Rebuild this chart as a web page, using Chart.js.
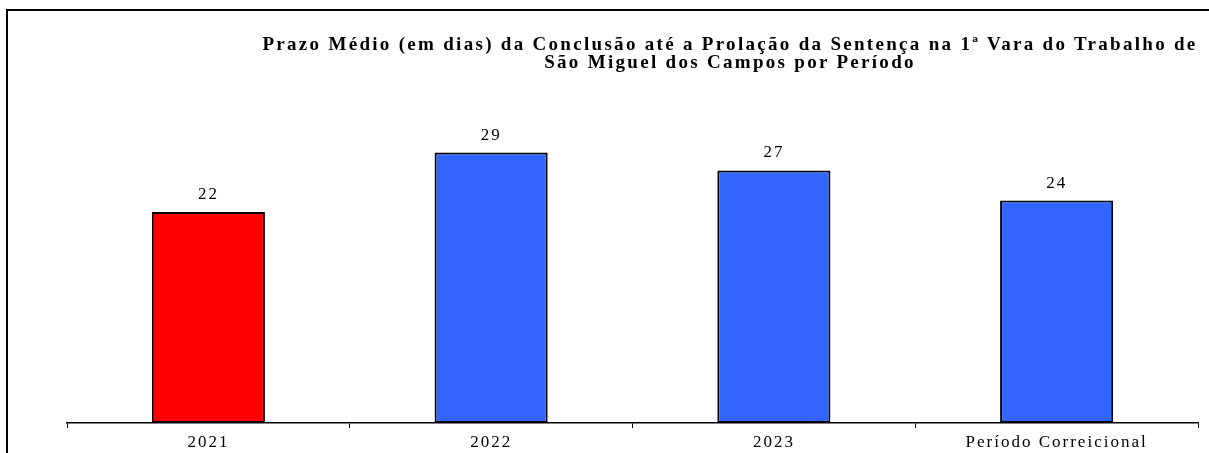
<!DOCTYPE html>
<html>
<head>
<meta charset="utf-8">
<script src="https://cdn.jsdelivr.net/npm/chart.js@4"></script>
<style>
  html, body { margin: 0; padding: 0; background: #fff; }
  #wrap { position: relative; width: 1209px; height: 453px; overflow: hidden; }
  #frame { position: absolute; left: 6px; top: 9px; width: 1210px; height: 450px;
           border-top: 2px solid #000; border-left: 2px solid #000; }
  #title { position: absolute; left: 253px; top: 35px; width: 954px; text-align: center;
           font-family: 'Liberation Serif', serif; font-weight: bold; font-size: 19px;
           line-height: 18px; letter-spacing: 2.3px; color: #000; }
  canvas { position: absolute; left: 0; top: 0; }
</style>
</head>
<body>
<div id="wrap">
  <div id="frame"></div>
  <canvas id="prazo-canvas" width="1209" height="453"></canvas>
  <div id="title">Prazo Médio (em dias) da Conclusão até a Prolação da Sentença na 1ª Vara do Trabalho de<br>São Miguel dos Campos por Período</div>
</div>
<script>
// prazo medio chart

const categories = ['2021', '2022', '2023', 'Período Correicional']
const prazoMedio = [22.4, 28.7, 26.8, 23.6]
const barColors = ['#FF0000', '#3366FF', '#3366FF', '#3366FF']

// value above each bar
const valueLabels = {
  id: 'valueLabels',
  afterDatasetsDraw(chart) {
    const ctx = chart.ctx
    const meta = chart.getDatasetMeta(0)
    ctx.save()
    ctx.font = '17px "Liberation Serif"'
    ctx.fillStyle = '#000'
    ctx.textAlign = 'center'
    ctx.textBaseline = 'alphabetic'
    meta.data.forEach((bar, i) => {
      ctx.fillText(Math.round(prazoMedio[i]), bar.x, bar.y - 13)
    })
    ctx.restore()
  },
}

// wide spacing like the original
const spacing = {
  id: 'spacing',
  beforeDraw(chart) {
    chart.ctx.letterSpacing = '2px'
  },
}

function generatePrazoChart() {
  const ctx = document.getElementById('prazo-canvas').getContext('2d')

  const prazoChart = new Chart(ctx, {
    type: 'bar',
    data: {
      labels: categories,
      datasets: [
        {
          data: prazoMedio,
          backgroundColor: barColors,
          borderColor: '#000',
          borderWidth: 2,
          borderSkipped: false,
          categoryPercentage: 1,
          barPercentage: 0.4,
        },
      ],
    },
    options: {
      responsive: false,
      animation: false,
      layout: {
        padding: { top: 46, left: 67, right: 11, bottom: 0 },
      },
      scales: {
        x: {
          afterFit(scale) {
            scale.height = 30
          },
          grid: {
            drawOnChartArea: false,
            drawTicks: true,
            tickLength: 5,
            color: '#000',
          },
          border: {
            display: true,
            color: '#000',
            width: 1.5,
          },
          ticks: {
            color: '#000',
            padding: 4,
            font: { family: 'Liberation Serif', size: 17 },
          },
        },
        y: {
          display: false,
          min: 0,
          max: 40,
        },
      },
      plugins: {
        legend: { display: false },
        tooltip: { enabled: false },
      },
    },
    plugins: [spacing, valueLabels],
  })
}

generatePrazoChart()
</script>
</body>
</html>
